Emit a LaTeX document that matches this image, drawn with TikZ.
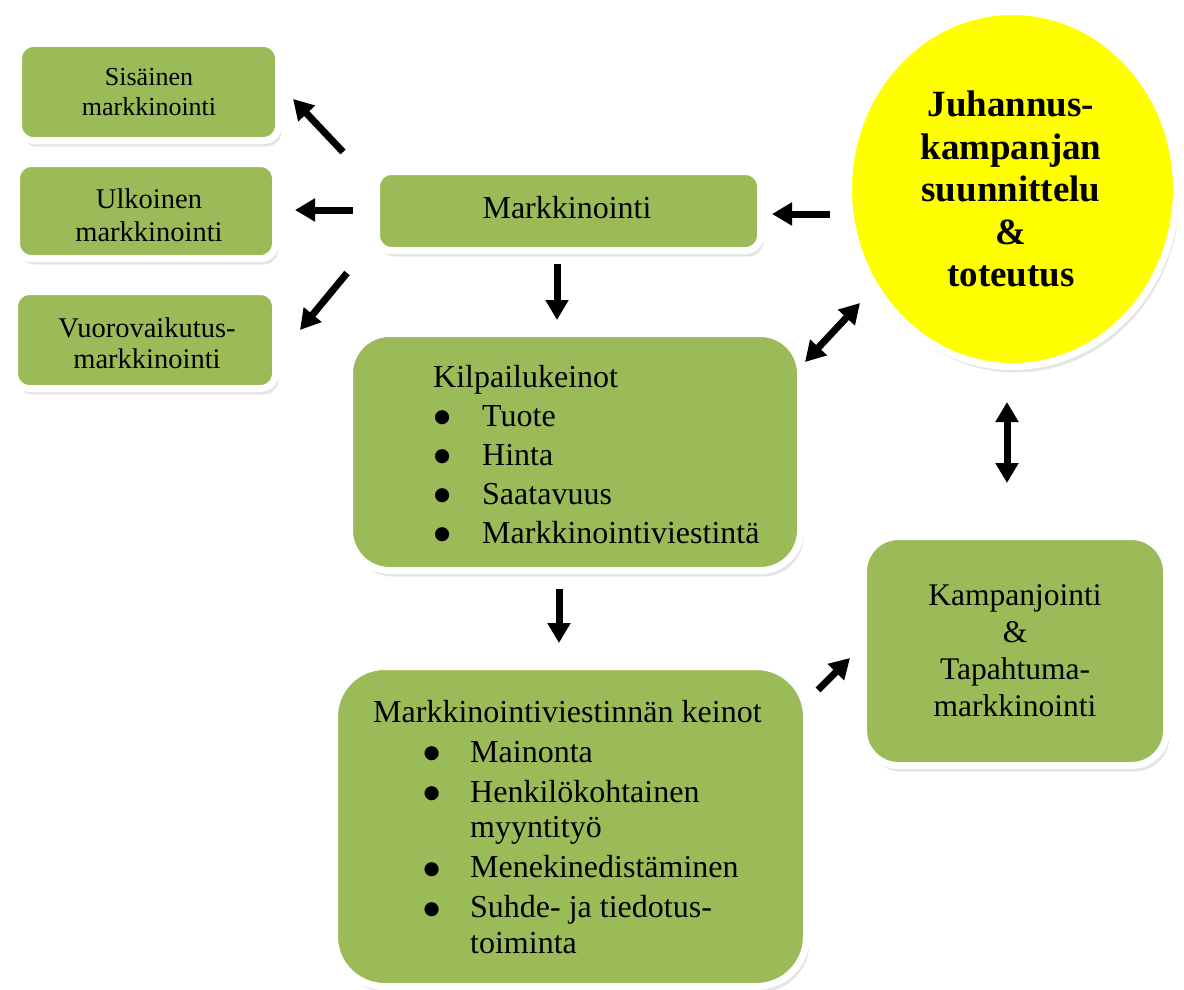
\documentclass[tikz,border=0pt]{standalone}
\usepackage{fontspec}
\setmainfont{Liberation Serif}
\newfontfamily\symfont{DejaVu Sans}
\usetikzlibrary{arrows.meta,shadows,shapes.geometric}
\definecolor{olive}{HTML}{9BBB59}
\definecolor{sunyellow}{HTML}{FFFF00}
\newcommand{\bigbul}{\hspace*{1pt}\raisebox{3.2pt}{\symfont\fontsize{18.5}{18.5}\selectfont ●}}
\tikzset{
  softshadow/.style={
    drop shadow={fill=black, opacity=0.10, shadow xshift=3pt, shadow yshift=-6pt},
    drop shadow={fill=black, opacity=0.16, shadow xshift=1.5pt, shadow yshift=-3pt}},
  box/.style={rectangle, rounded corners=#1, fill=olive, draw=white, line width=7pt, inner sep=0pt, softshadow},
  box/.default=15pt,
  sun/.style={ellipse, fill=sunyellow, draw=white, line width=7pt, inner sep=0pt, softshadow},
  lbl/.style={inner sep=0pt, anchor=base},
  blockarrow/.style={line width=7pt, -{Triangle[length=20pt,width=22pt]}},
  dblarrow/.style={line width=7pt, {Triangle[length=20pt,width=22pt]}-{Triangle[length=20pt,width=22pt]}}
}
\begin{document}
\begin{tikzpicture}[x=1pt,y=-1pt]
\useasboundingbox (0,0) rectangle (1184,990);
% boxes
\node[box, minimum width=260pt, minimum height=97pt] (sis) at (148.5,92) {};
\node[box, minimum width=259pt, minimum height=95pt] (ulk) at (146,211) {};
\node[box, minimum width=261pt, minimum height=97pt] (vuo) at (145,340) {};
\node[box, minimum width=384pt, minimum height=79pt] (mark) at (568.5,211) {};
\node[box=40pt, minimum width=451pt, minimum height=237pt] (kilp) at (575,452) {};
\node[box=50pt, minimum width=472pt, minimum height=320pt] (mvk) at (570.5,826.5) {};
\node[box=35pt, minimum width=303pt, minimum height=229pt] (kamp) at (1015,651) {};
\node[sun, minimum width=328pt, minimum height=355pt] (juh) at (1012.5,189) {};
% texts
\node[lbl] (tsis) at (149,85) {\fontsize{26}{30}\selectfont\begin{tabular}[t]{@{}c@{}}Sisäinen\\markkinointi\end{tabular}};
\node[lbl] (tulk) at (149,208) {\fontsize{28.5}{33}\selectfont\begin{tabular}[t]{@{}c@{}}Ulkoinen\\markkinointi\end{tabular}};
\node[lbl] (tvuo) at (147,337) {\fontsize{28.5}{31}\selectfont\begin{tabular}[t]{@{}c@{}}Vuorovaikutus-\\markkinointi\end{tabular}};
\node[lbl] (tmark) at (567,218) {\fontsize{32}{38}\selectfont Markkinointi};
\node[lbl, anchor=base west] (tkilp) at (433,387) {\fontsize{32}{39}\selectfont\begin{tabular}[t]{@{}p{49pt}@{}l@{}}
\multicolumn{2}{@{}l@{}}{Kilpailukeinot}\\
\bigbul & Tuote\\
\bigbul & Hinta\\
\bigbul & Saatavuus\\
\bigbul & Markkinointiviestintä
\end{tabular}};
\node[lbl, anchor=base west] (tmvk) at (373,722) {\fontsize{32}{35.5}\selectfont\begin{tabular}[t]{@{\hspace{49.5pt}}p{47.5pt}@{}l@{}}
\multicolumn{2}{@{}l@{}}{Markkinointiviestinnän keinot}\\[4.5pt]
\bigbul & Mainonta\\[4.5pt]
\bigbul & Henkilökohtainen\\
 & myyntityö\\[4.5pt]
\bigbul & Menekinedistäminen\\[4.5pt]
\bigbul & Suhde- ja tiedotus-\\
 & toiminta
\end{tabular}};
\node[lbl] (tkamp) at (1015,605) {\fontsize{31.5}{37.3}\selectfont\begin{tabular}[t]{@{}c@{}}Kampanjointi\\\&\\Tapahtuma-\\markkinointi\end{tabular}};
\node[lbl] (tjuh) at (1011,117) {\fontsize{37}{42.5}\selectfont\bfseries\begin{tabular}[t]{@{}c@{}}Juhannus-\\kampanjan\\suunnittelu\\\&\\toteutus\end{tabular}};
% arrow coordinates
\coordinate (a1s) at (343,152); \coordinate (a1e) at (293,99);
\coordinate (a2s) at (353,210); \coordinate (a2e) at (295,210);
\coordinate (a3s) at (347,273); \coordinate (a3e) at (300,330);
\coordinate (a4s) at (557,264); \coordinate (a4e) at (557,320);
\coordinate (a5s) at (830,214); \coordinate (a5e) at (772,214);
\coordinate (a6s) at (860,303); \coordinate (a6e) at (805,362);
\coordinate (a7s) at (1007,402); \coordinate (a7e) at (1007,483);
\coordinate (a8s) at (559,589); \coordinate (a8e) at (559,643);
\coordinate (a9s) at (818,690); \coordinate (a9e) at (850,658);
% arrows
\draw[blockarrow] (a1s) -- (a1e);
\draw[blockarrow] (a2s) -- (a2e);
\draw[blockarrow] (a3s) -- (a3e);
\draw[blockarrow] (a4s) -- (a4e);
\draw[blockarrow] (a5s) -- (a5e);
\draw[dblarrow] (a6s) -- (a6e);
\draw[dblarrow] (a7s) -- (a7e);
\draw[blockarrow] (a8s) -- (a8e);
\draw[blockarrow] (a9s) -- (a9e);
\end{tikzpicture}
\end{document}
